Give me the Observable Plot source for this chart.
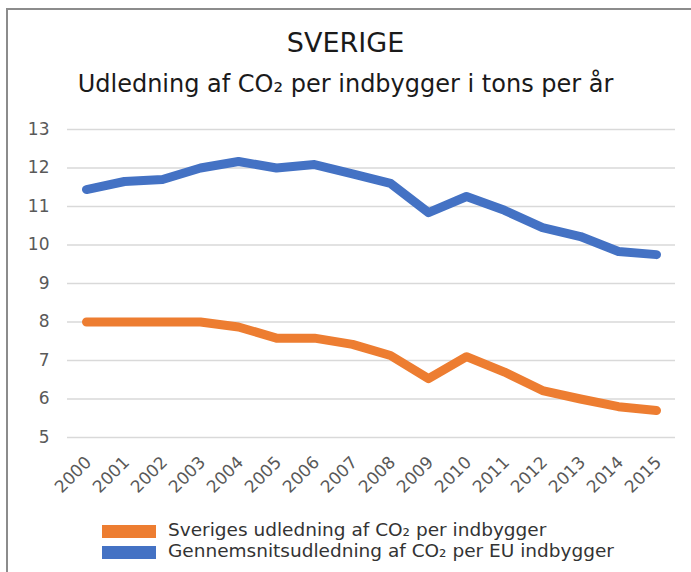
<!DOCTYPE html>
<html>
<head>
<meta charset="utf-8">
<script src="https://cdn.jsdelivr.net/npm/d3@7"></script>
<script src="https://cdn.jsdelivr.net/npm/@observablehq/plot@0.6"></script>
<style>
  html, body { margin: 0; padding: 0; background: #fff; width: 691px; height: 572px; overflow: hidden; }
  body { position: relative; font-family: "DejaVu Sans", Verdana, sans-serif; }
  #frame { position: absolute; left: 6px; top: 8px; width: 720px; height: 620px; border-left: 2px solid #8c8c8c; border-top: 2px solid #8c8c8c; box-sizing: border-box; }
  #title { position: absolute; left: 0; width: 691px; top: 27px; text-align: center; font-size: 27px; color: #1a1a1a; }
  #subtitle { position: absolute; left: 0; width: 691px; top: 70px; text-align: center; font-size: 24px; color: #1a1a1a; }
  #chart { position: absolute; left: 0; top: 110px; }
  .leg { position: absolute; left: 102px; font-size: 18.5px; color: #333; }
  .leg .sw { position: absolute; left: 0; width: 54px; height: 13px; }
  .leg .tx { position: absolute; left: 66px; top: -6px; white-space: nowrap; }
</style>
</head>
<body>
<div id="frame"></div>
<div id="title">SVERIGE</div>
<div id="subtitle">Udledning af CO₂ per indbygger i tons per år</div>
<div id="chart"></div>
<div id="legend"></div>
<script>
const years = [2000, 2001, 2002, 2003, 2004, 2005, 2006, 2007, 2008, 2009, 2010, 2011, 2012, 2013, 2014, 2015];
const sverige = [8.0, 8.0, 8.0, 8.0, 7.87, 7.58, 7.58, 7.42, 7.13, 6.53, 7.1, 6.7, 6.22, 6.0, 5.8, 5.7];
const eu = [11.44, 11.65, 11.7, 12.0, 12.17, 12.0, 12.09, 11.85, 11.6, 10.84, 11.26, 10.9, 10.45, 10.22, 9.83, 9.75];
const yTicks = [5, 6, 7, 8, 9, 10, 11, 12, 13];
const seriesNames = ["Sveriges udledning af CO₂ per indbygger", "Gennemsnitsudledning af CO₂ per EU indbygger"];
const seriesColors = ["#ED7D31", "#4472C4"];

const data = [];
years.forEach((y, i) => {
  data.push({year: y, value: sverige[i], series: seriesNames[0]});
  data.push({year: y, value: eu[i], series: seriesNames[1]});
});

const chart = Plot.plot({
  width: 691,
  height: 400,
  marginLeft: 67,
  marginRight: 16,
  marginTop: 19,
  marginBottom: 73,
  style: { fontFamily: "DejaVu Sans, Verdana, sans-serif", fontSize: "17px", color: "#595959", background: "transparent" },
  x: { type: "point", domain: years, padding: 0.5, axis: null },
  y: { domain: [5, 13], axis: null },
  color: { domain: seriesNames, range: seriesColors },
  marks: [
    Plot.ruleY(yTicks, { stroke: "#d9d9d9", strokeWidth: 1.5 }),
    Plot.axisY({ ticks: yTicks, tickSize: 0, tickPadding: 18, label: null, fontSize: 17 }),
    Plot.text(years, { x: d => d, text: d => String(d), frameAnchor: "bottom", rotate: -45, textAnchor: "end", lineAnchor: "middle", dx: 2, dy: 22, fontSize: 17, fill: "#595959" }),
    Plot.line(data, { x: "year", y: "value", z: "series", stroke: "series", strokeWidth: 9, strokeLinecap: "round", strokeLinejoin: "round" })
  ]
});
document.getElementById("chart").appendChild(chart);

const legend = document.getElementById("legend");
const legendTops = [525, 546];
seriesNames.forEach((name, i) => {
  const row = document.createElement("div");
  row.className = "leg";
  row.style.top = legendTops[i] + "px";
  row.innerHTML = `<div class="sw" style="background:${seriesColors[i]}"></div><div class="tx">${name}</div>`;
  legend.appendChild(row);
});
</script>
</body>
</html>
